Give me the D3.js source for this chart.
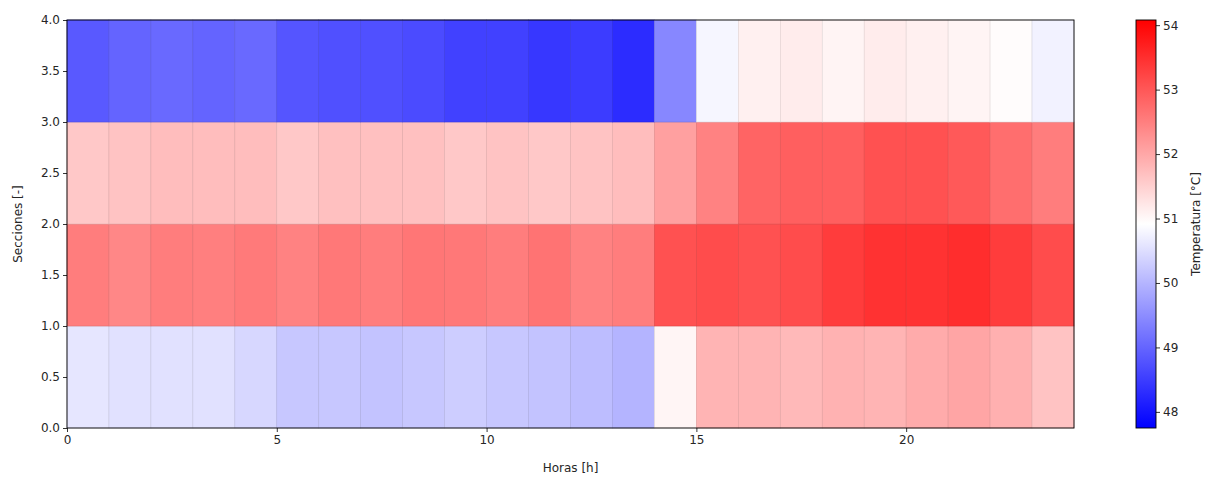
<!DOCTYPE html>
<html>
<head>
<meta charset="utf-8">
<script src="https://cdn.jsdelivr.net/npm/d3@7"></script>
<style>
  html, body { margin: 0; padding: 0; background: #fff; }
  text { font-family: "DejaVu Sans", sans-serif; fill: #262626; }
</style>
</head>
<body>
<svg id="chart" width="1216" height="477"></svg>
<script>
// Hours (column edges 0..24) and sections (row edges 0..4)
const hours = d3.range(24);
const sections = [0, 1, 2, 3];

// Temperature per section, one value per hour [°C]
const section0 = [50.60, 50.54, 50.54, 50.54, 50.42, 50.22, 50.22, 50.17, 50.22, 50.30, 50.22, 50.17, 50.10, 49.98,
                  51.04, 51.85, 51.85, 51.79, 51.87, 51.85, 51.96, 52.03, 51.90, 51.66];
const section1 = [52.53, 52.41, 52.53, 52.50, 52.56, 52.47, 52.59, 52.53, 52.62, 52.59, 52.53, 52.65, 52.47, 52.53,
                  53.08, 53.14, 53.08, 53.14, 53.33, 53.46, 53.46, 53.52, 53.33, 53.14];
const section2 = [51.60, 51.66, 51.73, 51.73, 51.73, 51.60, 51.70, 51.70, 51.70, 51.60, 51.66, 51.60, 51.66, 51.73,
                  52.09, 52.47, 52.84, 52.90, 52.90, 53.08, 53.08, 52.97, 52.71, 52.53];
const section3 = [48.86, 48.99, 49.05, 48.99, 49.05, 48.80, 48.74, 48.74, 48.68, 48.56, 48.56, 48.43, 48.50, 48.30,
                  49.43, 50.80, 51.10, 51.15, 51.05, 51.15, 51.10, 51.05, 50.95, 50.75];
const sectionValues = [section0, section1, section2, section3];

const xTicks = [0, 5, 10, 15, 20];
const yTicks = [0, 0.5, 1, 1.5, 2, 2.5, 3, 3.5, 4];
const cbTicks = [48, 49, 50, 51, 52, 53, 54];

// Colour limits of the map
const vmin = 47.75, vmax = 54.08;

const svg = d3.select("#chart");
const plot = { left: 67, right: 1074, top: 20, bottom: 428 };
const cb = { left: 1136, right: 1156, top: 20, bottom: 428 };

const x = d3.scaleLinear().domain([0, 24]).range([plot.left, plot.right]);
const y = d3.scaleLinear().domain([0, 4]).range([plot.bottom, plot.top]);

// bwr colormap: blue -> white -> red
const color = d3.scaleLinear()
  .domain([vmin, (vmin + vmax) / 2, vmax])
  .range(["#0000ff", "#ffffff", "#ff0000"])
  .interpolate(d3.interpolateRgb);

const cells = [];
sections.forEach(s => hours.forEach(h => cells.push({ h, s, v: sectionValues[s][h] })));

svg.append("g").selectAll("rect")
  .data(cells)
  .join("rect")
  .attr("x", d => x(d.h))
  .attr("y", d => y(d.s + 1))
  .attr("width", d => x(d.h + 1) - x(d.h))
  .attr("height", d => y(d.s) - y(d.s + 1))
  .attr("fill", d => color(d.v))
  .attr("stroke", d => d3.color(color(d.v)).darker(0.35))
  .attr("stroke-width", 0.6);

// Frame
svg.append("rect")
  .attr("x", plot.left).attr("y", plot.top)
  .attr("width", plot.right - plot.left).attr("height", plot.bottom - plot.top)
  .attr("fill", "none").attr("stroke", "#000").attr("stroke-width", 0.9);

// Axes
const xAxis = svg.append("g")
  .attr("transform", `translate(0,${plot.bottom})`)
  .call(d3.axisBottom(x).tickValues(xTicks).tickFormat(d3.format("d")).tickSize(4).tickPadding(3));
const yAxis = svg.append("g")
  .attr("transform", `translate(${plot.left},0)`)
  .call(d3.axisLeft(y).tickValues(yTicks).tickFormat(d3.format(".1f")).tickSize(4).tickPadding(3));
[xAxis, yAxis].forEach(a => {
  a.select(".domain").remove();
  a.selectAll("line").attr("stroke", "#000").attr("stroke-width", 0.8);
  a.selectAll("text").style("font-family", "DejaVu Sans, sans-serif").style("font-size", "12px").attr("fill", "#262626");
});

svg.append("text")
  .attr("x", (plot.left + plot.right) / 2).attr("y", 472)
  .attr("text-anchor", "middle").style("font-size", "12px")
  .text("Horas [h]");
svg.append("text")
  .attr("transform", `translate(22,${(plot.top + plot.bottom) / 2}) rotate(-90)`)
  .attr("text-anchor", "middle").style("font-size", "12px")
  .text("Secciones [-]");

// Colorbar
const cbScale = d3.scaleLinear().domain([vmin, vmax]).range([cb.bottom, cb.top]);
const defs = svg.append("defs");
const grad = defs.append("linearGradient")
  .attr("id", "bwr").attr("x1", "0").attr("y1", "1").attr("x2", "0").attr("y2", "0");
d3.range(0, 1.0001, 0.05).forEach(t => {
  grad.append("stop").attr("offset", t).attr("stop-color", color(vmin + t * (vmax - vmin)));
});
svg.append("rect")
  .attr("x", cb.left).attr("y", cb.top)
  .attr("width", cb.right - cb.left).attr("height", cb.bottom - cb.top)
  .attr("fill", "url(#bwr)").attr("stroke", "#000").attr("stroke-width", 0.9);

const cbAxis = svg.append("g")
  .attr("transform", `translate(${cb.right},0)`)
  .call(d3.axisRight(cbScale).tickValues(cbTicks).tickFormat(d3.format("d")).tickSize(4).tickPadding(3));
cbAxis.select(".domain").remove();
cbAxis.selectAll("line").attr("stroke", "#000").attr("stroke-width", 0.8);
cbAxis.selectAll("text").style("font-family", "DejaVu Sans, sans-serif").style("font-size", "12px").attr("fill", "#262626");

svg.append("text")
  .attr("transform", `translate(1200,${(cb.top + cb.bottom) / 2}) rotate(-90)`)
  .attr("text-anchor", "middle").style("font-size", "12px")
  .text("Temperatura [°C]");
</script>
</body>
</html>
